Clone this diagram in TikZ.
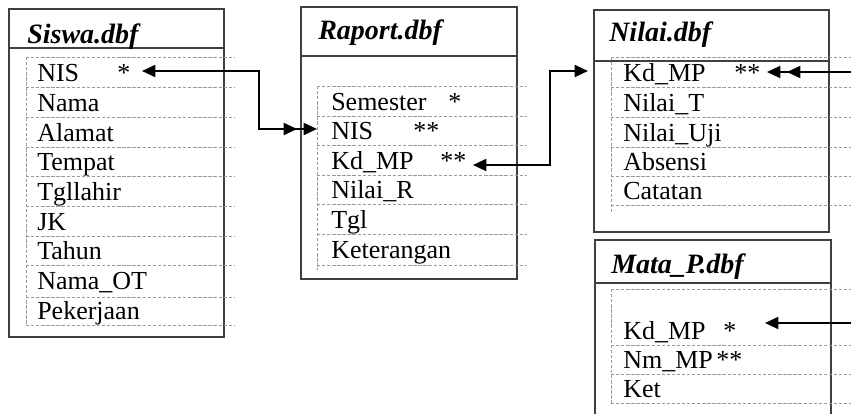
\documentclass[tikz,border=0pt]{standalone}
\usepackage{fontspec}
\setmainfont{Liberation Serif}
\usetikzlibrary{arrows.meta}

\begin{document}
\begin{tikzpicture}[x=0.75pt, y=-0.75pt,
		every node/.style={anchor=base west, inner sep=0pt, font=\fontsize{19.5}{22}\selectfont},
		title/.style={font=\fontsize{21}{24}\selectfont\bfseries\itshape},
		tablebox/.style={line width=0.9pt, draw=black!75},
		rowline/.style={dash pattern=on 2.5pt off 1.3pt, line width=0.5pt, draw=black!40},
		link/.style={line width=1.4pt},
		onetip/.tip={Triangle[length=10pt, width=9pt]},
		twotip/.tip={Triangle[length=10pt, width=9pt, sep=5pt] Triangle[length=10pt, width=9pt]}]

				\clip (0,0) rectangle (851,414);

				% Siswa.dbf
				\draw[tablebox] (9,9) rectangle (224,337);
				\draw[tablebox] (9,48) -- (224,48);
				\draw[rowline] (26,57) -- (26,325);
				\draw[rowline] (26,57) -- (235,57) (26,87) -- (235,87) (26,117) -- (235,117)
					(26,147) -- (235,147) (26,176) -- (235,176) (26,206) -- (235,206)
					(26,236) -- (235,236) (26,265) -- (235,265) (26,297) -- (235,297) (26,325) -- (235,325);
				\node[title] (siswa) at (27,43) {Siswa.dbf};
				\node (siswa-nis) at (37,81) {NIS};
				\node (siswa-nis-key) at (117,81) {*};
				\node (siswa-nama) at (37,111) {Nama};
				\node (siswa-alamat) at (37,141) {Alamat};
				\node (siswa-tempat) at (37,170) {Tempat};
				\node (siswa-tgllahir) at (37,200) {Tgllahir};
				\node (siswa-jk) at (37,230) {JK};
				\node (siswa-tahun) at (37,259) {Tahun};
				\node (siswa-namaot) at (37,289) {Nama\_OT};
				\node (siswa-pekerjaan) at (37,319) {Pekerjaan};

				% Raport.dbf
				\draw[tablebox] (301,7) rectangle (517,279);
				\draw[tablebox] (301,56) -- (517,56);
				\draw[rowline] (317,86) -- (317,270);
				\draw[rowline] (317,86) -- (527,86) (317,116) -- (527,116) (317,145) -- (527,145)
					(317,175) -- (527,175) (317,204) -- (527,204) (317,234) -- (527,234) (317,265) -- (527,265);
				\node[title] (raport) at (318,40) {Raport.dbf};
				\node (raport-semester) at (331,110) {Semester};
				\node (raport-semester-key) at (448,110) {*};
				\node (raport-nis) at (331,139) {NIS};
				\node (raport-nis-key) at (413,139) {**};
				\node (raport-kdmp) at (331,169) {Kd\_MP};
				\node (raport-kdmp-key) at (440,169) {**};
				\node (raport-nilair) at (331,198) {Nilai\_R};
				\node (raport-tgl) at (331,228) {Tgl};
				\node (raport-keterangan) at (331,258) {Keterangan};

				% Nilai.dbf
				\draw[tablebox] (594,10) rectangle (829,232);
				\draw[tablebox] (594,61) -- (829,61);
				\draw[rowline] (611,57) -- (611,213);
				\draw[rowline] (611,57) -- (851,57) (611,87) -- (851,87) (611,117) -- (851,117)
					(611,147) -- (851,147) (611,176) -- (851,176) (611,205) -- (851,205);
				\node[title] (nilai) at (609,41) {Nilai.dbf};
				\node (nilai-kdmp) at (623,81) {Kd\_MP};
				\node (nilai-kdmp-key) at (734,81) {**};
				\node (nilai-nilait) at (623,111) {Nilai\_T};
				\node (nilai-nilaiuji) at (623,141) {Nilai\_Uji};
				\node (nilai-absensi) at (623,170) {Absensi};
				\node (nilai-catatan) at (623,199) {Catatan};

				% Mata_P.dbf
				\draw[tablebox] (595,240) rectangle (831,430);
				\draw[tablebox] (595,283) -- (831,283);
				\draw[rowline] (611,289) -- (611,403);
				\draw[rowline] (611,289) -- (851,289) (611,345) -- (851,345) (611,374) -- (851,374) (611,403) -- (851,403);
				\node[title] (matap) at (611,273) {Mata\_P.dbf};
				\node (matap-kdmp) at (623,339) {Kd\_MP};
				\node (matap-kdmp-key) at (723,339) {*};
				\node (matap-nmmp) at (623,368) {Nm\_MP};
				\node (matap-nmmp-key) at (716,368) {**};
				\node (matap-ket) at (623,397) {Ket};

				% ends of the relations
				\coordinate (siswa-nis-end) at (142,71);
				\coordinate (raport-nis-end) at (317,129);
				\coordinate (raport-kdmp-end) at (473,165);
				\coordinate (nilai-kdmp-end) at (588,71);
				\coordinate (nilai-kdmp-in) at (767,72);
				\coordinate (nilai-kdmp-out) at (852,72);
				\coordinate (matap-kdmp-in) at (765,323);
				\coordinate (matap-kdmp-out) at (852,323);

				\draw[link, onetip-twotip] (siswa-nis-end) -- ++(117,0) |- (raport-nis-end);
				\draw[link, onetip-onetip] (raport-kdmp-end) -- ++(77,0) |- (nilai-kdmp-end);
				\draw[link, -twotip] (nilai-kdmp-out) -- (nilai-kdmp-in);
				\draw[link, -onetip] (matap-kdmp-out) -- (matap-kdmp-in);
			\end{tikzpicture}
\end{document}
